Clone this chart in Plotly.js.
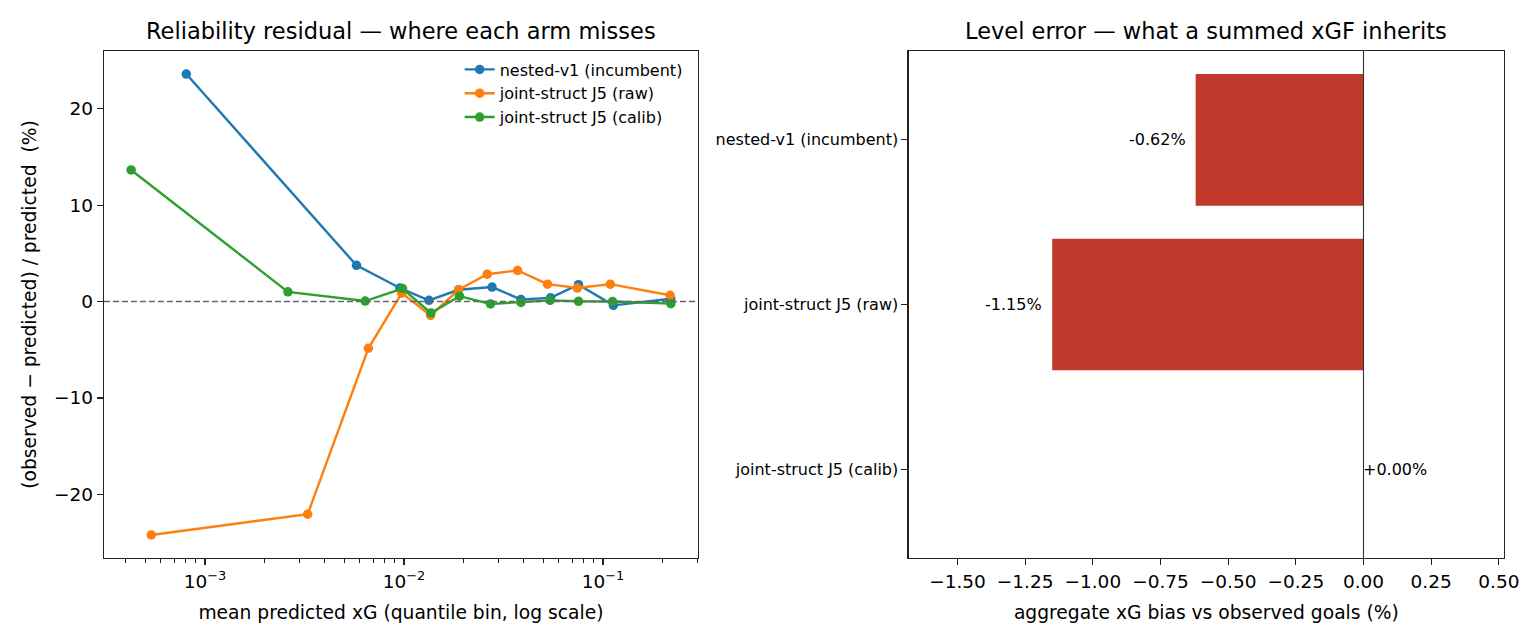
<!DOCTYPE html>
<html>
<head>
<meta charset="utf-8">
<script src="https://cdn.plot.ly/plotly-3.0.1.min.js"></script>
<style>
  html, body { margin: 0; padding: 0; background: #fff; }
  #chart { width: 1540px; height: 644px; }
</style>
</head>
<body>
<div id="chart"></div>
<script>
// reliability residual per quantile bin, one x/y pair per arm
const nestedX = [0.000805, 0.00577, 0.00953, 0.01334, 0.0188, 0.0277, 0.0387, 0.0545, 0.0753, 0.1127, 0.2193];
const nestedY = [23.6, 3.75, 1.40, 0.12, 1.22, 1.50, 0.21, 0.38, 1.75, -0.40, 0.28];

const rawX = [0.000537, 0.00328, 0.00662, 0.00974, 0.0136, 0.0188, 0.0262, 0.0372, 0.0526, 0.0743, 0.1088, 0.2173];
const rawY = [-24.22, -22.06, -4.85, 0.87, -1.45, 1.22, 2.83, 3.22, 1.80, 1.40, 1.80, 0.65];

const calibX = [0.000425, 0.00261, 0.00638, 0.00982, 0.01365, 0.0190, 0.0272, 0.0387, 0.0542, 0.0753, 0.1117, 0.2193];
const calibY = [13.65, 1.00, 0.05, 1.35, -1.19, 0.55, -0.25, -0.10, 0.12, 0.02, 0.0, -0.22];

const armNames = ['nested-v1 (incumbent)', 'joint-struct J5 (raw)', 'joint-struct J5 (calib)'];
const armColors = ['#1f77b4', '#ff7f0e', '#2ca02c'];

const logTickVals = [0.001, 0.01, 0.1];
const logTickText = ['10<sup>\u22123</sup>', '10<sup>\u22122</sup>', '10<sup>\u22121</sup>'];

// aggregate level error per arm (%)
const levelBias = [-0.62, -1.15, 0.00];

const FONT = 'DejaVu Sans, sans-serif';
const AXIS = '#222';

const seriesX = [nestedX, rawX, calibX];
const seriesY = [nestedY, rawY, calibY];

const traces = armNames.map((name, i) => ({
  x: seriesX[i], y: seriesY[i], name: name,
  type: 'scatter', mode: 'lines+markers',
  line: { color: armColors[i], width: 2.4 },
  marker: { color: armColors[i], size: 9.5 },
  xaxis: 'x', yaxis: 'y',
}));

traces.push({
  x: levelBias, y: armNames, type: 'bar', orientation: 'h',
  marker: { color: '#c0392b' }, width: 0.8,
  xaxis: 'x2', yaxis: 'y2', showlegend: false, hoverinfo: 'x+y',
});

const barLabels = levelBias.map((v, i) => ({
  x: v, y: armNames[i], xref: 'x2', yref: 'y2',
  text: (v >= 0 ? '+' : '') + v.toFixed(2) + '%',
  showarrow: false,
  xanchor: v < 0 ? 'right' : 'left',
  xshift: v < 0 ? -8 : -2,
  font: { family: FONT, size: 16, color: '#000' },
}));

const axisBase = {
  showline: true, mirror: true, linecolor: AXIS, linewidth: 1.3,
  ticks: 'outside', ticklen: 6, tickwidth: 1.2, tickcolor: AXIS,
  showgrid: false, zeroline: false, automargin: false,
  tickfont: { family: FONT, size: 18.5, color: '#000' },
};

const layout = {
  width: 1540, height: 644,
  paper_bgcolor: '#fff', plot_bgcolor: '#fff',
  font: { family: FONT, color: '#000' },
  margin: { l: 0, r: 0, t: 51, b: 86 },
  showlegend: true,
  legend: {
    x: 0.2985, xanchor: 'left', y: 0.997, yanchor: 'top',
    bgcolor: 'rgba(0,0,0,0)', borderwidth: 0,
    font: { family: FONT, size: 16, color: '#000' },
  },
  xaxis: {
    ...axisBase, domain: [0.0675, 0.4532], type: 'log',
    range: [-3.508, -0.523],
    tickvals: logTickVals, ticktext: logTickText,
    minor: { ticks: 'outside', ticklen: 3.5, tickwidth: 1, tickcolor: AXIS, dtick: 'D1', showgrid: false },
    title: { text: 'mean predicted xG (quantile bin, log scale)', font: { family: FONT, size: 18.7 }, standoff: 15 },
  },
  yaxis: {
    ...axisBase, domain: [0, 1], range: [-26.61, 25.99],
    tickvals: [-20, -10, 0, 10, 20],
    title: { text: '(observed \u2212 predicted) / predicted  (%)', font: { family: FONT, size: 18.7 }, standoff: 12 },
  },
  xaxis2: {
    ...axisBase, domain: [0.5901, 0.9766], range: [-1.68, 0.519],
    tick0: 0, dtick: 0.25, tickformat: '.2f',
    title: { text: 'aggregate xG bias vs observed goals (%)', font: { family: FONT, size: 18.7 }, standoff: 15 },
  },
  yaxis2: {
    ...axisBase, anchor: 'x2', domain: [0, 1], type: 'category',
    categoryorder: 'array', categoryarray: armNames,
    range: [2.54, -0.54],
    tickfont: { family: FONT, size: 16, color: '#000' },
  },
  shapes: [
    { type: 'line', xref: 'x domain', x0: 0, x1: 1, yref: 'y', y0: 0, y1: 0,
      line: { color: '#666', width: 1.5, dash: '6px,3px' } },
    { type: 'line', xref: 'x2', x0: 0, x1: 0, yref: 'y2 domain', y0: 0, y1: 1,
      line: { color: '#333', width: 1.1 } },
  ],
  annotations: [
    { text: 'Reliability residual \u2014 where each arm misses', xref: 'x domain', yref: 'y domain',
      x: 0.5, y: 1, yanchor: 'bottom', yshift: 5, showarrow: false,
      font: { family: FONT, size: 22.5, color: '#000' } },
    { text: 'Level error \u2014 what a summed xGF inherits', xref: 'x2 domain', yref: 'y2 domain',
      x: 0.5, y: 1, yanchor: 'bottom', yshift: 5, showarrow: false,
      font: { family: FONT, size: 22.5, color: '#000' } },
    ...barLabels,
  ],
};

Plotly.newPlot('chart', traces, layout, { displayModeBar: false, staticPlot: true });
</script>
</body>
</html>
